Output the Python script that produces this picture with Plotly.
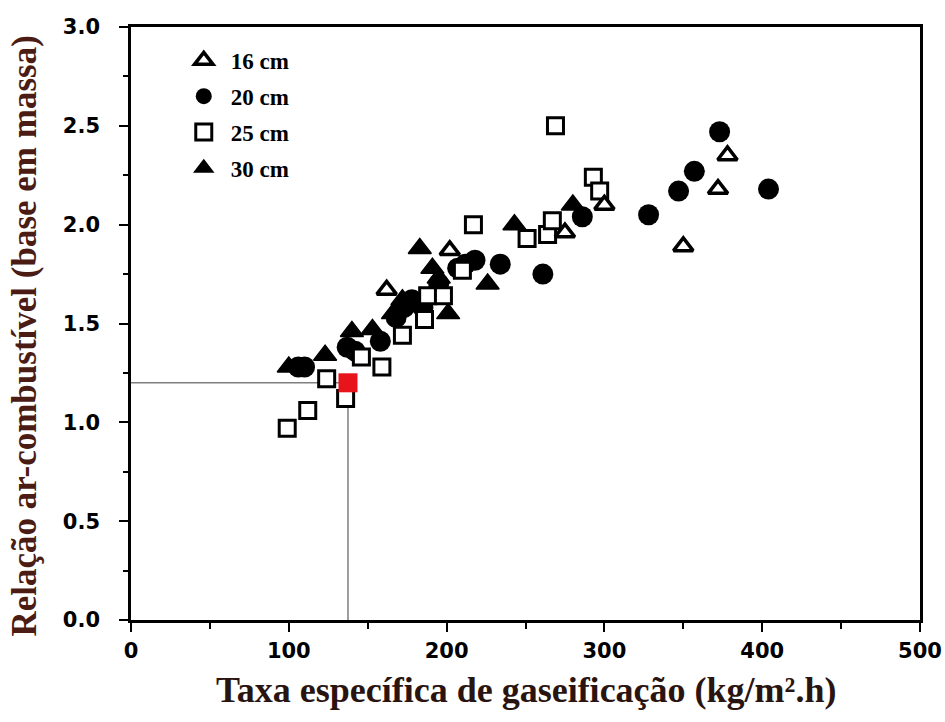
import plotly.graph_objects as go

# ---- data ----
x16 = [162, 202, 275, 300, 350, 372, 378]
y16 = [1.67, 1.87, 1.96, 2.10, 1.89, 2.18, 2.35]

x20 = [106, 110, 137, 142, 158, 168, 173, 178, 185, 195, 207, 212, 218, 234, 261, 286, 328, 347, 357, 373, 404]
y20 = [1.28, 1.28, 1.38, 1.36, 1.41, 1.53, 1.58, 1.62, 1.58, 1.70, 1.78, 1.80, 1.82, 1.80, 1.75, 2.04, 2.05, 2.17, 2.27, 2.47, 2.18]

x25 = [99, 112, 124, 136, 146, 159, 172, 186, 188, 198, 210, 217, 251, 264, 267, 269, 293, 297]
y25 = [0.97, 1.06, 1.22, 1.12, 1.33, 1.28, 1.44, 1.52, 1.64, 1.64, 1.77, 2.00, 1.93, 1.95, 2.02, 2.50, 2.24, 2.17]

x30 = [100, 123, 140, 153, 166, 172, 183, 191, 195, 201, 226, 243, 280]
y30 = [1.28, 1.34, 1.46, 1.47, 1.55, 1.62, 1.88, 1.78, 1.73, 1.55, 1.70, 2.00, 2.10]

ref_x = 137.5
ref_y = 1.2

legend_names = ["16 cm", "20 cm", "25 cm", "30 cm"]
x_title = "Taxa específica de gaseificação (kg/m².h)"
y_title = "Relação ar-combustível (base em massa)"

fig = go.Figure()

# reference lines
fig.add_trace(go.Scatter(x=[0, ref_x, ref_x], y=[ref_y, ref_y, 0], mode="lines",
                         line=dict(color="#7f7f7f", width=1.5), showlegend=False, hoverinfo="skip"))

fig.add_trace(go.Scatter(x=x20, y=y20, mode="markers", name=legend_names[1], legendrank=2,
                         legendgroup="b",
                         marker=dict(symbol="circle", size=21, color="black", line=dict(width=0))))
fig.add_trace(go.Scatter(x=x30, y=y30, mode="markers", name=legend_names[3], legendrank=4,
                         legendgroup="d",
                         marker=dict(symbol="triangle-up", size=20, color="black", line=dict(width=1.5, color="black"))))
fig.add_trace(go.Scatter(x=x25, y=y25, mode="markers", name=legend_names[2], legendrank=3,
                         legendgroup="c",
                         marker=dict(symbol="square", size=16, color="white", line=dict(width=3, color="black"))))
fig.add_trace(go.Scatter(x=x16, y=y16, mode="markers", name=legend_names[0], legendrank=1,
                         legendgroup="a",
                         marker=dict(symbol="triangle-up", size=17, color="white", line=dict(width=3.5, color="black"))))

# highlighted point
fig.add_trace(go.Scatter(x=[ref_x], y=[ref_y], mode="markers", showlegend=False,
                         marker=dict(symbol="square", size=19, color="#e8141c", line=dict(width=0))))

axis_common = dict(showline=True, linecolor="black", linewidth=2.5, mirror=True,
                   showgrid=False, zeroline=False, ticks="outside", tickcolor="black",
                   tickwidth=2, ticklen=9, automargin=False,
                   tickfont=dict(family="DejaVu Sans", size=21, color="black", weight="bold"))

fig.update_xaxes(range=[0, 500], tick0=0, dtick=100,
                 minor=dict(dtick=50, ticks="outside", ticklen=6, tickwidth=2, tickcolor="black"),
                 ticklabelstandoff=1, **axis_common)
fig.update_yaxes(range=[0, 3], tick0=0, dtick=0.5, tickformat=".1f",
                 minor=dict(dtick=0.25, ticks="outside", ticklen=5, tickwidth=2, tickcolor="black"),
                 ticklabelstandoff=15, **axis_common)

fig.update_layout(
    width=945, height=722,
    margin=dict(l=131, r=25, t=27, b=102, autoexpand=False),
    paper_bgcolor="white", plot_bgcolor="white",
    showlegend=True,
    legend=dict(x=0.058, y=0.98, xanchor="left", yanchor="top",
                bgcolor="rgba(0,0,0,0)", traceorder="grouped", tracegroupgap=3,
                itemsizing="trace", itemwidth=44,
                font=dict(family="Liberation Serif", size=23, color="black", weight="bold")),
    annotations=[
        dict(text=x_title, xref="paper", yref="paper", x=0.5, y=0, yshift=-70,
             xanchor="center", yanchor="middle", showarrow=False,
             font=dict(family="Liberation Serif", size=36, color="#2a1410", weight="bold")),
        dict(text=y_title, xref="paper", yref="paper", x=0, y=0.478, xshift=-106,
             xanchor="center", yanchor="middle", textangle=-90, showarrow=False,
             font=dict(family="Liberation Serif", size=35, color="#4a1c14", weight="bold")),
    ],
)

fig.write_html("out.html", config={"displayModeBar": False},
               post_script="document.body.style.margin='0px';")
